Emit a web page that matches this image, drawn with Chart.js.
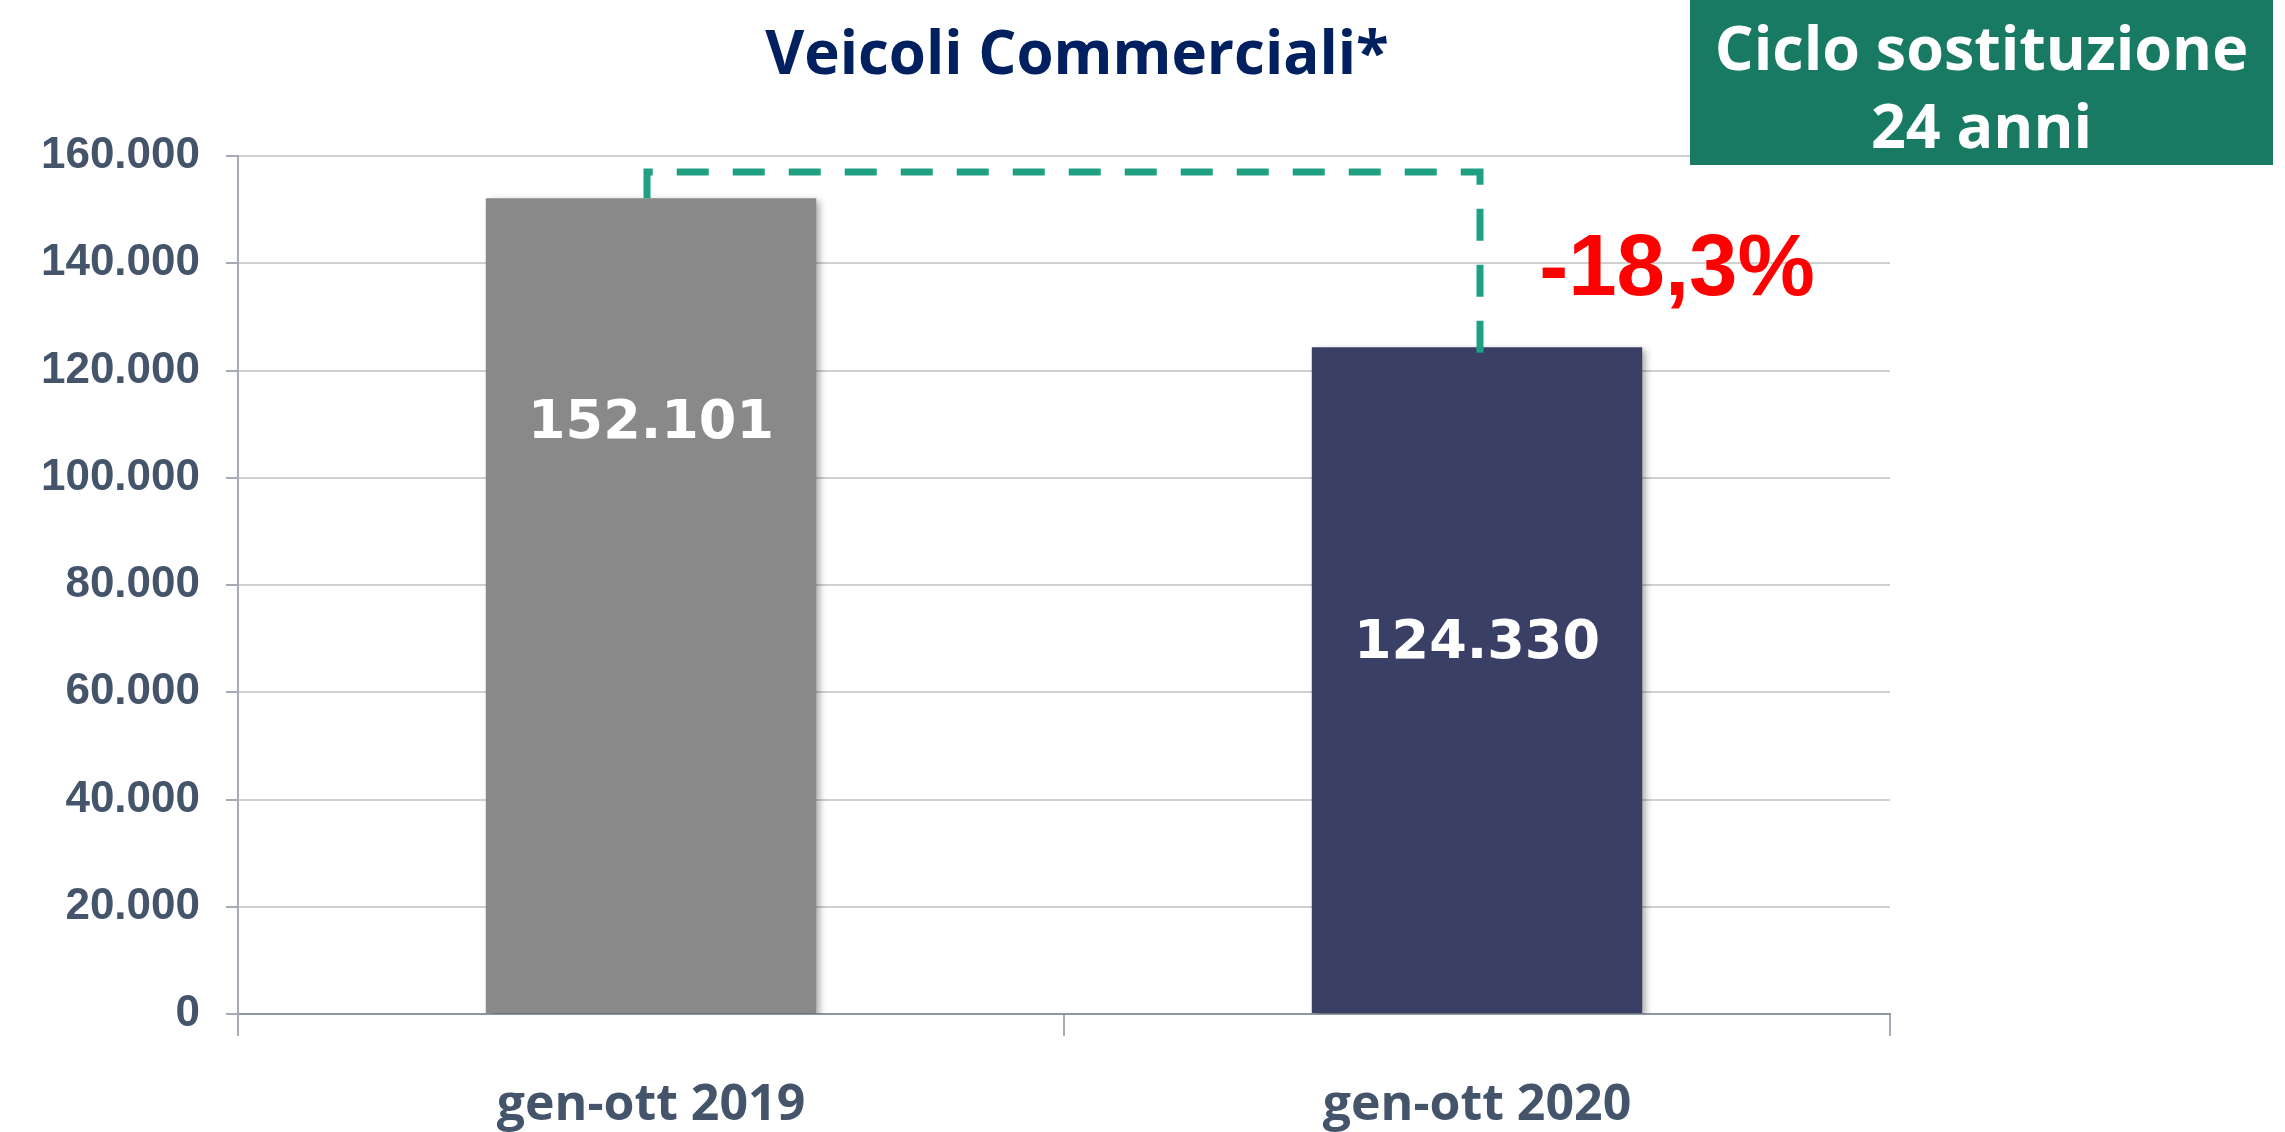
<!DOCTYPE html>
<html>
<head>
<meta charset="utf-8">
<script src="https://cdn.jsdelivr.net/npm/chart.js@4/dist/chart.umd.min.js"></script>
<style>
  html, body { margin: 0; padding: 0; background: #fff; }
  #wrap { position: relative; width: 2285px; height: 1132px; overflow: hidden; }
  #chart { position: absolute; left: 0; top: 0; }
  #title {
    position: absolute; left: 677px; width: 800px; top: 16px;
    text-align: center; font: 700 60px "Open Sans", sans-serif; line-height: 70px; color: #002060;
  }
  #box {
    position: absolute; left: 1690px; top: 0; width: 583px; height: 165px;
    background: #197A63; color: #fff; text-align: center; box-sizing: border-box;
    padding-top: 8px; font: 700 61px "Open Sans", sans-serif; line-height: 78px;
  }
  #pct {
    position: absolute; left: 1477px; width: 400px; top: 215px;
    text-align: center; font: 700 87px "Liberation Sans", Arial, sans-serif; line-height: 100px; color: #FF0000;
  }
</style>
</head>
<body>
<div id="wrap">
  <canvas id="chart" width="2285" height="1132"></canvas>
  <div id="title">Veicoli Commerciali*</div>
  <div id="box">Ciclo sostituzione<br>24 anni</div>
  <div id="pct"></div>
</div>
<script>
const categories = ['gen-ott 2019', 'gen-ott 2020'];
const values = [152101, 124330];
const barColors = ['#898989', '#3A3F65'];
const yTicks = [0, 20000, 40000, 60000, 80000, 100000, 120000, 140000, 160000];

function fmt(v) {
  return String(v).replace(/\B(?=(\d{3})+(?!\d))/g, '.');
}

const change = (values[1] / values[0] - 1) * 100;
document.getElementById('pct').textContent = change.toFixed(1).replace('.', ',') + '%';

const shadowPlugin = {
  id: 'barShadow',
  beforeDatasetsDraw(chart) {
    const ctx = chart.ctx;
    ctx.save();
    ctx.shadowColor = 'rgba(0,0,0,0.35)';
    ctx.shadowBlur = 7;
    ctx.shadowOffsetX = 4;
    ctx.shadowOffsetY = 3;
  },
  afterDatasetsDraw(chart) {
    chart.ctx.restore();
  }
};

const extrasPlugin = {
  id: 'extras',
  afterDatasetsDraw(chart, args, opts) {
    const ctx = chart.ctx;
    const x = chart.scales.x, y = chart.scales.y;

    // dashed connector between the two bars
    const x1 = x.getPixelForValue(0) - 4;
    const x2 = x.getPixelForValue(1) + 3;
    const yTop = y.getPixelForValue(opts.level);
    ctx.save();
    ctx.strokeStyle = '#1FA083';
    ctx.lineWidth = 7;
    ctx.setLineDash([32, 24]);
    ctx.beginPath();
    ctx.moveTo(x1, y.getPixelForValue(values[0]));
    ctx.lineTo(x1, yTop);
    ctx.lineTo(x2, yTop);
    ctx.lineTo(x2, y.getPixelForValue(values[1]) + 13);
    ctx.stroke();
    ctx.restore();

    // value labels inside the bars
    ctx.save();
    ctx.fillStyle = '#fff';
    ctx.font = 'bold 54px "DejaVu Sans", sans-serif';
    ctx.textAlign = 'center';
    ctx.textBaseline = 'middle';
    values.forEach((v, i) => {
      ctx.fillText(fmt(v), x.getPixelForValue(i), y.getPixelForValue(opts.labelAt[i]));
    });
    ctx.restore();
  }
};

new Chart(document.getElementById('chart'), {
  type: 'bar',
  data: {
    labels: categories,
    datasets: [{
      data: values,
      backgroundColor: barColors,
      categoryPercentage: 1,
      barPercentage: 0.4
    }]
  },
  plugins: [shadowPlugin, extrasPlugin],
  options: {
    responsive: false,
    animation: false,
    devicePixelRatio: 1,
    layout: { padding: { left: 0, right: 395, top: 156, bottom: 0 } },
    plugins: {
      legend: { display: false },
      tooltip: { enabled: false },
      extras: { level: 157000, labelAt: [110000, 69000] }
    },
    scales: {
      x: {
        offset: true,
        grid: { display: true, offset: true, drawOnChartArea: false, tickLength: 22, tickColor: '#A6ABB5', lineWidth: 2 },
        border: { color: '#8D97A5', width: 2 },
        ticks: { color: '#44546A', padding: 40, font: { family: '"Open Sans", sans-serif', size: 50, weight: 'bold' } },
        afterFit(scale) { scale.height = 118; }
      },
      y: {
        min: 0,
        max: 160000,
        afterBuildTicks(scale) { scale.ticks = yTicks.map(v => ({ value: v })); },
        grid: { color: '#D0D0D0', lineWidth: 2, tickLength: 12, tickColor: '#A6ABB5' },
        border: { color: '#A6ABB5', width: 2 },
        ticks: {
          color: '#44546A', padding: 26,
          font: { family: '"Liberation Sans", Arial, sans-serif', size: 44, weight: 'bold' },
          callback: v => fmt(v)
        },
        afterFit(scale) { scale.width = 238; }
      }
    }
  }
});
</script>
</body>
</html>
